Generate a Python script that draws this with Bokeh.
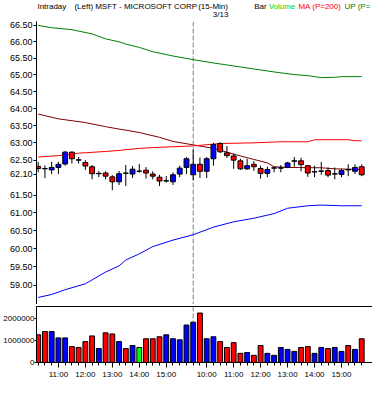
from bokeh.plotting import figure
from bokeh.models import (Range1d, FixedTicker, NumeralTickFormatter, Span,
                          ColumnDataSource, LinearAxis)
from bokeh.core.properties import value
from bokeh.layouts import column
from bokeh.embed import file_html
from bokeh.resources import INLINE

# ---------------- data ----------------
times = ["10:15", "10:30", "10:45",
         "11:00", "11:15", "11:30", "11:45", "12:00", "12:15", "12:30", "12:45",
         "13:00", "13:15", "13:30", "13:45", "14:00", "14:15", "14:30", "14:45",
         "15:00", "15:15", "15:30", "15:45",
         "09:30", "09:45",
         "10:00", "10:15", "10:30", "10:45", "11:00", "11:15", "11:30", "11:45",
         "12:00", "12:15", "12:30", "12:45", "13:00", "13:15", "13:30", "13:45",
         "14:00", "14:15", "14:30", "14:45", "15:00", "15:15", "15:30", "15:45"]
session_start = 23
session_date = "3/13"

opens = [62.32, 62.26, 62.22, 62.29, 62.39, 62.73, 62.51, 62.43, 62.31, 62.11,
         62.13, 62.02, 61.88, 62.13, 62.10, 62.18, 62.21, 62.10, 62.01, 61.90,
         61.88, 62.10, 62.29, 62.08, 62.38, 62.18, 62.54, 62.98, 62.71, 62.62,
         62.48, 62.25, 62.38, 62.26, 62.12, 62.27, 62.27, 62.29, 62.47, 62.48,
         62.34, 62.16, 62.18, 62.20, 62.10, 62.09, 62.23, 62.18, 62.31]
highs = [62.45, 62.35, 62.45, 62.45, 62.77, 62.75, 62.59, 62.50, 62.36, 62.19,
         62.18, 62.07, 62.19, 62.36, 62.33, 62.39, 62.30, 62.18, 62.08, 62.04,
         62.15, 62.34, 62.59, 62.80, 62.57, 62.59, 63.00, 63.02, 62.91, 62.68,
         62.54, 62.54, 62.47, 62.34, 62.31, 62.31, 62.36, 62.45, 62.59, 62.57,
         62.35, 62.34, 62.45, 62.29, 62.29, 62.25, 62.38, 62.38, 62.38]
lows = [62.15, 61.98, 62.10, 62.10, 62.34, 62.40, 62.40, 62.22, 61.95, 62.01,
        61.95, 61.64, 61.79, 61.76, 61.99, 62.14, 61.97, 61.95, 61.76, 61.86,
        61.79, 62.01, 62.10, 61.92, 61.99, 61.99, 62.34, 62.70, 62.56, 62.25,
        62.22, 62.22, 62.19, 61.97, 62.01, 62.15, 62.15, 62.27, 62.31, 62.18,
        62.02, 62.01, 62.08, 62.01, 61.95, 62.01, 62.04, 62.10, 62.04]
closes = [62.26, 62.25, 62.29, 62.38, 62.73, 62.54, 62.50, 62.33, 62.11, 62.12,
          62.04, 61.88, 62.11, 62.12, 62.24, 62.18, 62.13, 62.04, 61.90, 61.91,
          62.08, 62.27, 62.54, 62.38, 62.18, 62.54, 62.95, 62.74, 62.63, 62.50,
          62.25, 62.34, 62.31, 62.12, 62.23, 62.28, 62.28, 62.42, 62.48, 62.37,
          62.13, 62.17, 62.19, 62.07, 62.11, 62.20, 62.22, 62.29, 62.08]
volumes = [1270000, 1420000, 1420000, 1130000, 1130000, 730000, 690000, 960000,
           1220000, 640000, 1360000, 1310000, 960000, 640000, 780000, 690000,
           1090000, 1090000, 1180000, 1270000, 1090000, 1040000, 1720000, 1850000,
           2270000, 1090000, 1180000, 960000, 690000, 910000, 420000, 460000,
           330000, 780000, 420000, 330000, 690000, 600000, 510000, 690000,
           730000, 420000, 690000, 640000, 690000, 510000, 780000, 600000, 1090000]

upper_idx = [0, 2, 5, 8, 10, 12, 13, 15, 17, 20, 23, 26, 29, 32, 35, 38, 40, 42, 44, 45, 48]
upper_val = [66.50, 66.43, 66.37, 66.24, 66.09, 66.00, 65.93, 65.83, 65.70, 65.57, 65.46,
             65.36, 65.27, 65.18, 65.09, 65.01, 64.98, 64.92, 64.93, 64.95, 64.95]
mid_idx = [0, 3, 7, 10, 12, 13, 15, 18, 20, 23, 26, 28, 30, 32, 34, 35, 37, 42, 44, 48]
mid_val = [63.84, 63.70, 63.59, 63.47, 63.40, 63.37, 63.30, 63.16, 63.04, 62.94,
           62.84, 62.73, 62.62, 62.52, 62.42, 62.31, 62.29, 62.28, 62.25, 62.23]
ma200_idx = [0, 3, 6, 10, 12, 15, 18, 23, 27, 32, 36, 40, 41, 46, 47, 48]
ma200_val = [62.59, 62.63, 62.70, 62.75, 62.78, 62.84, 62.87, 62.91, 62.98, 63.00,
             63.03, 63.03, 63.09, 63.09, 63.06, 63.06]
lower_idx = [0, 2, 4, 7, 10, 12, 13, 15, 17, 20, 23, 26, 29, 32, 35, 37, 40, 42, 45, 48]
lower_val = [58.67, 58.75, 58.88, 59.04, 59.36, 59.53, 59.69, 59.86, 60.06, 60.24,
             60.39, 60.60, 60.75, 60.85, 60.98, 61.13, 61.20, 61.22, 61.20, 61.20]

price_ticks = [59.0, 59.5, 60.0, 60.5, 61.0, 61.5, 62.1, 62.5, 63.0, 63.5, 64.0,
               64.5, 65.0, 65.5, 66.0, 66.5]
volume_ticks = [0, 1000000, 2000000]

header_texts = ["Intraday", "(Left)", "MSFT - MICROSOFT CORP", "(15-Min)",
                "Bar", "Volume", "MA (P=200)", "UP (P="]

# ---------------- derived ----------------
FONT = "Liberation Sans"
RED, BLUE, LIME = "#FF0000", "#0000FF", "#00FF00"
n = len(times)
idx = list(range(n))
colors = [BLUE if c > o else (RED if c < o else LIME) for o, c in zip(opens, closes)]
body_top = [max(o, c) if o != c else o + 0.004 for o, c in zip(opens, closes)]
body_bot = [min(o, c) for o, c in zip(opens, closes)]
hour_idx = [i for i, t in enumerate(times) if t.endswith(":00")]
hour_lab = {i: times[i] for i in hour_idx}

src = ColumnDataSource(dict(x=idx, o=opens, h=highs, l=lows, c=closes, v=volumes,
                            top=body_top, bot=body_bot, col=colors))

W = 372
LEFT = 35
FW = W - LEFT
X0, X1 = -0.25, 49.6
x_range = Range1d(X0, X1)


def empty_axis_style(ax):
    ax.ticker = FixedTicker(ticks=[], minor_ticks=[])
    ax.major_tick_out = 0
    ax.major_tick_in = 0
    ax.minor_tick_out = 0
    ax.minor_tick_in = 0
    ax.major_label_standoff = 0
    ax.major_label_text_font_size = "1px"
    ax.axis_line_color = "black"


# ---------------- header strip ----------------
HH = 19
hdr = figure(width=W, height=HH, x_range=Range1d(0, W), y_range=Range1d(0, HH),
             x_axis_location=None, y_axis_location=None, title=None,
             output_backend="svg", toolbar_location=None, tools="",
             min_border=0)
hdr.outline_line_color = None
hdr.grid.visible = False
date_x = LEFT + (session_start - X0) / (X1 - X0) * FW + 3
hsrc = ColumnDataSource(dict(
    x=[1, 42, 65, 179, 241, 257, 290, 341],
    y=[HH - 1] * 8,
    t=header_texts,
    c=["black", "black", "black", "black", "black", "#00DD00", RED, "#008000"]))
hdr.text(x="x", y="y", text="t", text_color="c", source=hsrc,
         text_font=value(FONT), text_font_size="8px", text_baseline="top")
hdr.text(x=[date_x], y=[1], text=[session_date], text_color="black",
         text_font=value(FONT), text_font_size="8px", text_baseline="bottom")

# ---------------- price panel ----------------
p = figure(width=W, height=285, x_range=x_range, y_range=Range1d(58.48, 66.62),
           y_axis_type="log", x_axis_location="below", title=None,
           output_backend="svg", toolbar_location=None, tools="",
           min_border_left=LEFT, min_border_right=0, min_border_top=2,
           min_border_bottom=0)
p.outline_line_color = None
p.grid.visible = False
empty_axis_style(p.below[0])
ya = p.left[0]
ya.ticker = FixedTicker(ticks=price_ticks, minor_ticks=[])
ya.formatter = NumeralTickFormatter(format="0.00")
ya.major_label_text_font = FONT
ya.major_label_text_font_size = "9px"
ya.major_label_text_color = "black"
ya.major_tick_out = 3
ya.major_tick_in = 0
ya.major_label_standoff = 1
ya.axis_line_color = "black"
ya.major_tick_line_color = "black"

p.add_layout(Span(location=session_start, dimension="height", line_color="#808080",
                  line_dash="5 2", line_width=1, level="underlay"))

p.line(upper_idx, upper_val, line_color="#008000", line_width=1)
p.line(mid_idx, mid_val, line_color="#800000", line_width=1)
p.line(ma200_idx, ma200_val, line_color=RED, line_width=1)
p.line(lower_idx, lower_val, line_color=BLUE, line_width=1)

p.segment(x0="x", y0="l", x1="x", y1="h", source=src, line_color="black", line_width=1)
p.vbar(x="x", top="top", bottom="bot", width=0.72, source=src, fill_color="col",
       line_color="black", line_width=1)

# ---------------- volume panel ----------------
v = figure(width=W, height=77, x_range=x_range, y_range=Range1d(0, 2570000),
           x_axis_location="below", title=None, output_backend="svg",
           toolbar_location=None, tools="",
           min_border_left=LEFT, min_border_right=0, min_border_top=2,
           min_border_bottom=0)
v.outline_line_color = None
v.grid.visible = False
vx = v.below[0]
top_ax = LinearAxis()
empty_axis_style(top_ax)
v.add_layout(top_ax, "above")
vy = v.left[0]
vy.ticker = FixedTicker(ticks=volume_ticks, minor_ticks=[])
vy.formatter = NumeralTickFormatter(format="0")
vy.major_label_text_font = FONT
vy.major_label_text_font_size = "8px"
vy.major_label_text_color = "black"
vy.major_tick_out = 2
vy.major_tick_in = 0
vy.major_label_standoff = 0
vy.axis_line_color = "black"
vx.ticker = FixedTicker(ticks=hour_idx, minor_ticks=idx)
vx.major_label_overrides = hour_lab
vx.major_label_text_font = FONT
vx.major_label_text_font_size = "8px"
vx.major_label_text_color = "black"
vx.major_tick_out = 5
vx.major_tick_in = 0
vx.minor_tick_out = 3
vx.minor_tick_in = 0
vx.major_label_standoff = 2
vx.axis_line_color = "black"
vx.minor_tick_line_color = "black"

v.add_layout(Span(location=session_start, dimension="height", line_color="#808080",
                  line_dash="5 2", line_width=1, level="underlay"))
v.vbar(x="x", top="v", bottom=0, width=0.72, source=src, fill_color="col",
       line_color="black", line_width=1)

layout = column(hdr, p, v, spacing=0)
open("out.html", "w").write(file_html(layout, INLINE))
